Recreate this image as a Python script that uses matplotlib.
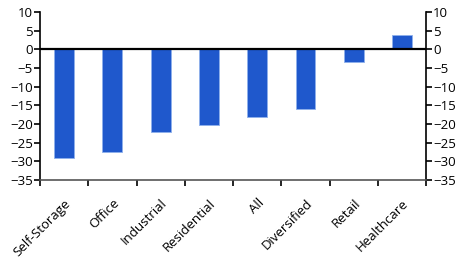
import numpy as np
import matplotlib.pyplot as plt

# categories and values
sectors = ["Self-Storage", "Office", "Industrial", "Residential", "All",
           "Diversified", "Retail", "Healthcare"]
values = [-29.0, -27.4, -22.2, -20.3, -18.1, -15.9, -3.4, 3.7]
yticks = [10, 5, 0, -5, -10, -15, -20, -25, -30, -35]

plt.rcParams['font.family'] = ['Open Sans', 'DejaVu Sans']
plt.rcParams['font.size'] = 9.5

fig = plt.figure(figsize=(4.7, 2.65), dpi=100)
ax = fig.add_axes([0.085, 0.321, 0.822, 0.634])

x = np.arange(len(sectors))
ax.bar(x, values, width=0.41, color='#1f58cc', edgecolor='#8fb0ec', linewidth=0.6, zorder=2)
ax.axhline(0, color='black', linewidth=1.6, zorder=3)

ax.set_xlim(-0.5, len(sectors) - 0.5)
ax.set_ylim(-35, 10)
ax.set_yticks(yticks)

# ticks on category boundaries, labels at centres
ax.set_xticks(np.arange(len(sectors) + 1) - 0.5)
ax.set_xticklabels([])
ax.set_xticks(x, minor=True)
ax.set_xticklabels(sectors, minor=True, rotation=45, ha='right', rotation_mode='anchor')
ax.tick_params(axis='x', which='minor', length=0, pad=12)
ax.tick_params(axis='x', which='major', length=4, width=1.2, direction='out')

ax.tick_params(axis='y', length=4, width=1.2, direction='out', pad=1,
               left=True, right=True, labelleft=True, labelright=True)

ax.spines['top'].set_visible(False)
ax.spines['left'].set_linewidth(1.2)
ax.spines['right'].set_linewidth(1.2)
ax.spines['bottom'].set_linewidth(1.2)
ax.spines['bottom'].set_color('#555555')

fig.savefig("out.png", dpi=100)
